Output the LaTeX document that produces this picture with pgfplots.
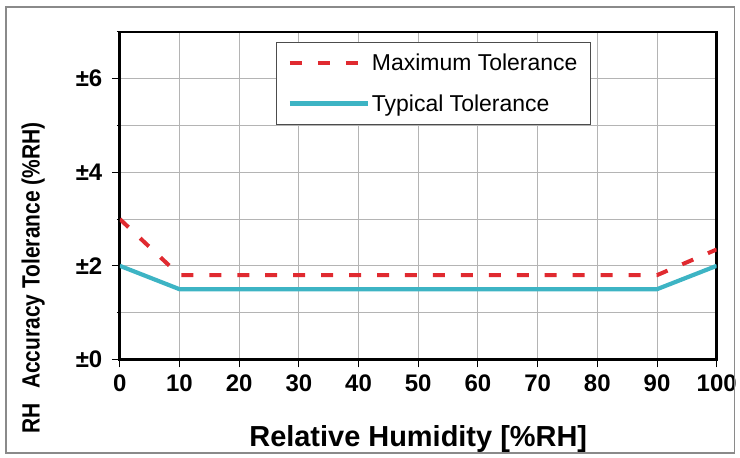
\documentclass[border=0pt]{standalone}
\usepackage{fontspec}
\setmainfont{Liberation Sans}
\usepackage{pgfplots}
\pgfplotsset{compat=1.18}
\definecolor{maxred}{HTML}{E02A30}
\definecolor{typteal}{HTML}{3DB4C4}
\definecolor{gridgray}{HTML}{B4B4B4}
\definecolor{framegray}{HTML}{8A8A8A}
\begin{document}
\begin{tikzpicture}
\begin{axis}[
  at={(0,0)}, anchor=south west,
  scale only axis,
  width=598bp, height=328bp,
  xmin=0, xmax=100, ymin=0, ymax=7,
  xtick={0,10,...,100},
  ytick={0,2,4,6},
  yticklabels={±0,±2,±4,±6},
  minor ytick={1,3,5,7},
  grid=both,
  major grid style={gridgray, line width=0.9bp},
  minor grid style={gridgray, line width=0.9bp},
  axis line style={black, line width=2.6bp},
  tick style={black, line width=1bp},
  major tick length=8bp,
  tick align=outside,
  xtick pos=bottom, ytick pos=left,
  /pgf/number format/assume math mode=true,
  ticklabel style={font=\fontsize{24bp}{28bp}\selectfont\bfseries},
  yticklabel style={xshift=-6bp},
  xticklabel style={yshift=-4bp},
  xlabel={Relative Humidity [\%RH]},
  xlabel style={font=\fontsize{29bp}{33bp}\selectfont\bfseries, at={(axis description cs:0.5,0)}, anchor=north, yshift=-63bp},
  ylabel={\scalebox{0.84}[1]{RH\hspace{0.7em}Accuracy Tolerance (\%RH)}},
  ylabel style={font=\fontsize{25bp}{29bp}\selectfont\bfseries, at={(axis description cs:-0.145,0.248)}, anchor=center, rotate=0},
  legend style={at={(rel axis cs:0.2625,0.9695)}, anchor=north west,
    draw=black!70, line width=0.9bp, fill=white,
    font=\fontsize{23bp}{27bp}\selectfont,
    inner xsep=11bp, inner ysep=10bp, row sep=18bp},
  legend cell align=left,
  legend image code/.code={\draw[#1] (0bp,0bp) -- (78bp,0bp);},
]
\addplot[maxred, line width=4bp, dash pattern=on 12bp off 16bp] coordinates {(0,3.0) (10,1.8) (90,1.8) (100,2.35)};
\addlegendentry{Maximum Tolerance}
\addplot[typteal, line width=4.2bp] coordinates {(0,2.0) (10,1.5) (90,1.5) (100,2.0)};
\addlegendentry{Typical Tolerance}
\end{axis}
\draw[framegray, line width=1.5bp] (-114bp,-94bp) rectangle (616bp,353bp);
\path[use as bounding box] (-120bp,-98bp) rectangle (620bp,360bp);
\end{tikzpicture}
\end{document}
